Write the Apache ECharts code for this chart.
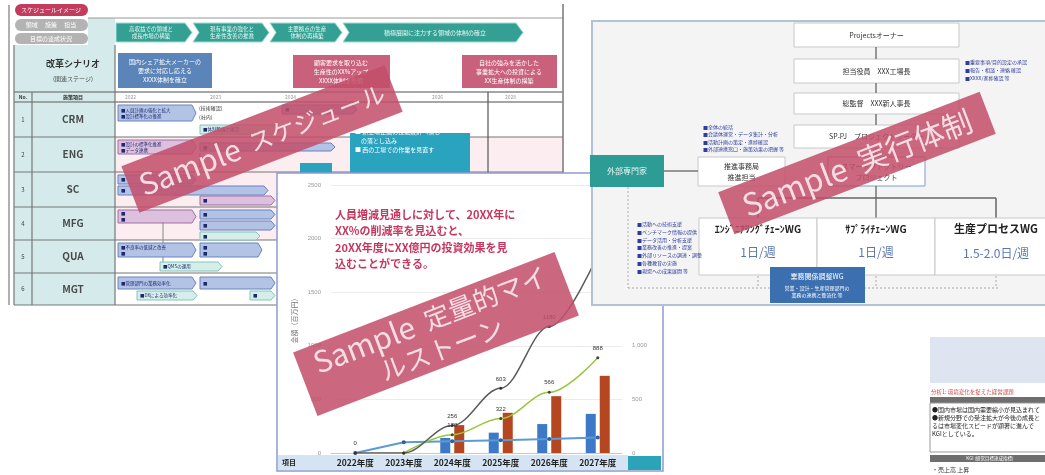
<!DOCTYPE html>
<html><head><meta charset="utf-8">
<script src="https://cdn.jsdelivr.net/npm/echarts@6/dist/echarts.min.js"></script>
<style>html,body{margin:0;padding:0;background:#fff}#c{width:1045px;height:475px}</style>
</head><body><div id="c"></div>
<script>
// ---- chart data ----
const categories = ['2022年度','2023年度','2024年度','2025年度','2026年度','2027年度'];
const barBlue   = [null, null, 140, 190, 270, 365];
const barOrange = [null, null, 260, 375, 530, 720];
const lineGray  = [0, 0, 256, 603, 1180, 1850];
const lineGreen = [null, 0, 170, 322, 566, 888];
const lineBlue  = [0, 100, 110, 118, 130, 145];
const yMin = 0, yMax = 2500, yStep = 500;

const F = '"Noto Sans CJK JP", "Noto Sans", sans-serif';
const G = [];
function R(x,y,w,h,fill,stroke,z,lw,r){G.push({type:'rect',silent:true,z:z,shape:{x:x,y:y,width:w,height:h,r:r||0},style:{fill:fill||'rgba(0,0,0,0)',stroke:stroke||null,lineWidth:lw||1}});}
function T(x,y,s,size,color,z,o){o=o||{};G.push({type:'text',silent:true,z:z,x:x,y:y,style:{text:s,fontSize:size,fontWeight:o.bold?'bold':'normal',fontFamily:F,fill:color,textAlign:o.align||'left',textVerticalAlign:'middle',lineHeight:o.lh||Math.round(size*1.3)}});}
function L(x1,y1,x2,y2,c,lw,z,dash){G.push({type:'line',silent:true,z:z,shape:{x1:x1,y1:y1,x2:x2,y2:y2},style:{stroke:c,lineWidth:lw||1,lineDash:dash||null}});}
function P(pts,fill,stroke,z){G.push({type:'polygon',silent:true,z:z,shape:{points:pts},style:{fill:fill,stroke:stroke||null,lineWidth:1}});}
function chev(x,y,w,h,fill,first){const p=[[x,y],[x+w-7,y],[x+w,y+h/2],[x+w-7,y+h],[x,y+h]];if(!first)p.push([x+6,y+h/2]);P(p,fill,'#9fdcd2',1);}
function task(x,y,w,h,kind,txt){const c={b:['#b3c3e6','#6b82bf'],p:['#dcc0de','#a070a8'],t:['#d5eeea','#86c4bb']}[kind];P([[x,y],[x+w-4,y],[x+w,y+h/2],[x+w-4,y+h],[x,y+h]],c[0],c[1],1);if(txt)T(x+3,y+h/2,txt,4.5,'#1e2a6e',2,{lh:6});}

// ================= schedule slide (back left) =================
L(9,5,9,305,'#b0b0b0',2,1);
R(15,4,73,12,'#c23c5d',null,1,1,6); T(51,10,'スケジュールイメージ',6,'#fff',2,{align:'center'});
R(15,19,73,12,'#b3b3b3',null,1,1,6); T(51,25,'領域　 施策　 担当',6,'#fff',2,{align:'center'});
R(15,33,73,11,'#b3b3b3',null,1,1,6); T(51,38.5,'目標の達成状況',6,'#fff',2,{align:'center'});
R(14,45,101,260,'#d5ebeb',null,0); R(88,18,27,27,'#d5ebeb',null,0);
R(115,137,448,103,'#fbedf0',null,0);
L(88,18,563,18,'#999',1.2,1);
L(563,4,563,305,'#777',1.5,1);
chev(116,23,76,19,'#34a094',true); T(151,32.5,'高収益での領域と\n成長市場の構築',5.5,'#e6f7f4',2,{align:'center',lh:7});
chev(193,23,76,19,'#34a094',false); T(232,32.5,'現有事業の強化と\n生産性改善の推進',5.5,'#e6f7f4',2,{align:'center',lh:7});
chev(270,23,72,19,'#34a094',false); T(307,32.5,'主要拠点の生産\n体制の再構築',5.5,'#e6f7f4',2,{align:'center',lh:7});
chev(343,23,180,19,'#34a094',false); T(435,32.5,'積極展開に注力する領域の体制の確立',6,'#e6f7f4',2,{align:'center'});
T(73,64,'改革シナリオ',9,'#333',2,{bold:true,align:'center'}); T(73,79,'(関連ステージ)',6,'#444',2,{align:'center'});
R(118,53,94,35,'#5b84b8',null,1); T(165,70.5,'国内シェア拡大メーカーの\n要求に対応し応える\nXXXX体制を確立',6,'#fff',2,{align:'center',lh:9});
R(293,55,97,33,'#c9617c',null,1); T(341,71.5,'顧客要求を取り込む\n生産性のXX%アップ\nXXXX体制を整備',6,'#fff',2,{align:'center',lh:9});
R(462,55,95,33,'#c9617c',null,1); T(509,71.5,'自社の強みを活かした\n事業拡大への投資による\nXX生産体制の構築',6,'#fff',2,{align:'center',lh:9});
[92,102,137,172,207,240,273,305].forEach(function(y,i){L(14,y,563,y,i<2?'#888':'#777',i<2?1.5:1.2,1);});
L(14,45,14,305,'#777',1.2,1); L(32,92,32,305,'#777',1.2,1); L(115,45,115,305,'#777',1.2,1); L(488,92,488,305,'#555',1.2,1);
T(23,97,'No.',5,'#333',2,{bold:true,align:'center'}); T(73,97,'施策項目',5,'#333',2,{bold:true,align:'center'});
[['2022',125],['2023',210],['2024',285],['2026',432],['2028',505]].forEach(function(a){T(a[1],97,a[0],5,'#999',2);});
['CRM','ENG','SC','MFG','QUA','MGT'].forEach(function(n,i){const ys=[102,137,172,207,240,273,305];const cy=(ys[i]+ys[i+1])/2;T(23,cy,String(i+1),6,'#444',2,{align:'center'});T(73,cy,n,10,'#4a4a4a',2,{bold:true,align:'center'});});
task(118,105,78,16,'b','■人員計画の強化と拡大\n■設計標準化の推進');
T(199,108,'(技術確認)',5,'#333',2); T(199,117,'(社内)',5,'#333',2);
task(200,125,80,9,'t','■体制整備と確認');
task(282,105,75,9,'b','■');
task(118,140,78,14,'p','■設計の標準化推進\n■データ連携');
task(200,143,135,8,'b','■');
L(200,153,200,168,'#777',1,1);
R(350,133,120,42,'#2aa3bf',null,1); T(355,141,'■ 新上場企画の技能設計へ落し\n　の落とし込み\n■ 西の工場での作業を見直す',6,'#fff',2,{lh:9});
R(300,163,32,14,'#2aa3bf',null,1);
task(118,175,78,9,'b','■'); task(118,186,150,9,'b','■'); task(200,196,75,9,'p','■');
task(118,210,78,13,'p','■\n■'); task(200,210,75,9,'b','■'); task(200,221,75,9,'b','■'); task(200,232,60,8,'t','■');
L(163,222,163,265,'#888',1,1);
task(118,243,78,14,'b','■不良率の低減と改善\n■'); task(200,243,62,14,'b','■\n■'); task(160,262,62,9,'t','■QMSの運用');
task(118,277,78,12,'b','■管理部門の業務効率化'); task(200,277,75,12,'b','■'); task(137,291,60,9,'t','■DXによる効率化'); task(250,291,25,9,'t','■');

// ================= chart slide (middle) =================
R(277,173,386,298,'#ffffff','#8e9bd0',3,1.5);
R(278,455,350,15,'#d4e4f2',null,4);
T(282,462.5,'項目',7,'#222',6,{bold:true});
R(628,456,33,14,'#2ba4b8',null,4);
T(335,215,'人員増減見通しに対して、20XX年に',11,'#c8365e',6,{bold:true});
T(335,231,'XX%の削減率を見込むと、',11,'#c8365e',6,{bold:true});
T(335,248,'20XX年度にXX億円の投資効果を見',11,'#c8365e',6,{bold:true});
T(335,264,'込むことができる。',11,'#c8365e',6,{bold:true});

// ================= org chart slide (right) =================
R(592,21,460,284,'#f4f4f4','#b4c0d4',10,2);
function box(x,y,w,h,t,stroke,fs){R(x,y,w,h,'#fff',stroke||'#c8c8c8',11);T(x+w/2,y+h/2,t,fs||7,'#333',12,{align:'center',lh:11});}
box(794,23,165,24,'Projectsオーナー');
box(794,59,165,24,'担当役員　XXX工場長');
box(794,93,165,21,'総監督　XXX新人事長');
box(794,125,165,23,'SP-PJ　プロジェクトリーダー');
box(828,157,97,29,'スマートファクトリー\nプロジェクト','#7a9ccc');
box(698,157,87,29,'推進事務局\n推進担当');
R(590,155,74,32,'#2d9c94',null,11); T(627,171,'外部専門家',8,'#e6f6f3',12,{align:'center'});
[[47,59],[83,93],[114,125],[148,157],[186,218]].forEach(function(a){L(876,a[0],876,a[1],'#777',1.5,11);});
L(758,198,996,198,'#666',1.5,11); L(996,198,996,218,'#666',1.5,11); L(758,198,758,218,'#666',1.5,11);
L(664,171,698,171,'#777',1.5,11);
L(628,187,628,288,'#aaa',1,11,[2,2]); L(628,288,1000,288,'#aaa',1,11,[2,2]);
[758,876,996].forEach(function(x){L(x,276,x,288,'#aaa',1,11,[2,2]);});
R(699,218,118,57,'#fff','#c8c8c8',11); R(817,218,118,57,'#fff','#c8c8c8',11); R(935,218,125,57,'#fff','#c8c8c8',11);
T(758,229,'ｴﾝｼﾞﾆｱﾘﾝｸﾞﾁｪｰﾝWG',10,'#222',12,{bold:true,align:'center'});
T(876,229,'ｻﾌﾟﾗｲﾁｪｰﾝWG',10,'#222',12,{bold:true,align:'center'});
T(996,229,'生産プロセスWG',11,'#222',12,{bold:true,align:'center'});
T(758,252,'1日/週',12,'#5a78b0',12,{align:'center'});
T(876,252,'1日/週',12,'#5a78b0',12,{align:'center'});
T(996,253,'1.5-2.0日/週',12,'#5a78b0',12,{align:'center'});
R(770,267,95,36,'#3b6fb0',null,12); T(817,276,'業務関係調整WG',7,'#fff',12,{align:'center'});
T(817,292,'営業・設計・生産管理部門の\n業務の連携と整流化 等',5,'#fff',12,{align:'center',lh:7});
['■重要事項/目的設定の承認','■報告・相談・連絡 確認','■XXXX/進捗確認 等'].forEach(function(s,i){T(965,62+i*8,s,5,'#2f3d9c',12);});
['■全体の統括','■会議体運営・データ集計・分析','■活動計画の策定・進捗確認','■外部連携窓口・施策効果の把握 等'].forEach(function(s,i){T(703,127+i*7.5,s,5,'#2f3d9c',12);});
['■活動への技術支援','■ベンチマーク情報の提供','■データ活用・分析支援','■業務改善の推進・提案','■外部リソースの調達・調整','■各種教育の実施','■現場への成果展開 等'].forEach(function(s,i){T(637,224+i*7.8,s,5,'#2f3d9c',12);});

// ================= bottom-right slide =================
R(929,335,120,145,'#fff',null,10);
R(930,337,120,46,'#dfe5f0',null,11);
T(931,392,'分析1: 環境変化を捉えた経営課題',5.5,'#c0504d',12);
R(930,397,120,6,'#6e6e6e',null,11);
R(930,403,120,49,'#fff','#999',11);
['●国内市場は国内需要縮小が見込まれて','●新規分野での受注拡大が今後の成長と','るは市場変化スピードが顕著に進んで','KGIとしている。'].forEach(function(s,i){T(932,410+i*8,s,6,'#222',12);});
R(930,455,120,7,'#6e6e6e',null,11); T(990,458.5,'KGI (経営目標達成指標)',4.5,'#fff',12,{align:'center'});
T(932,470,'・売上高 上昇',6,'#333',12);

// ================= Sample tags =================
function tag(cx,cy,w,h,deg,text,rich){G.push({type:'group',x:cx,y:cy,rotation:deg*Math.PI/180,z:20,silent:true,children:[
 {type:'rect',z:20,shape:{x:-w/2,y:-h/2,width:w,height:h},style:{fill:'rgba(194,78,106,0.86)'}},
 {type:'text',z:21,x:0,y:0,style:{text:text,rich:rich,fill:'#f6dde4',textAlign:'center',textVerticalAlign:'middle',fontFamily:F}}]});}
tag(262,139,282,50,21,'{a|Sample}{b|  スケジュール}',{a:{fontSize:30,fontFamily:F,fill:'#f6dde4'},b:{fontSize:24,fontFamily:F,fill:'#f6dde4'}});
tag(436,334,280,68,21,'{a|Sample}{b|  定量的マイ}\n{b|ルストーン}',{a:{fontSize:30,fontFamily:F,fill:'#f6dde4',lineHeight:32},b:{fontSize:26,fontFamily:F,fill:'#f6dde4',lineHeight:32}});
tag(857,163,280,45,21,'{a|Sample}{b|  実行体制}',{a:{fontSize:31,fontFamily:F,fill:'#f6dde4'},b:{fontSize:30,fontFamily:F,fill:'#f6dde4'}});

const chart = echarts.init(document.getElementById('c'));
chart.setOption({
  animation:false,
  backgroundColor:'#ffffff',
  grid:{left:331,right:423,top:185,bottom:22},
  xAxis:{type:'category',data:categories,z:5,axisLine:{lineStyle:{color:'#c8c8c8'}},axisTick:{show:false},
    axisLabel:{interval:0,fontSize:8.5,fontWeight:'bold',color:'#222',margin:6,fontFamily:F}},
  yAxis:[
    {type:'value',min:yMin,max:yMax,interval:yStep,z:5,name:'金額（百万円）',nameLocation:'middle',nameGap:33,
     nameTextStyle:{fontSize:7,color:'#777',fontFamily:F},axisLabel:{fontSize:6,color:'#999',margin:10,formatter:function(v){return String(v);}},
     splitLine:{lineStyle:{color:'#ececec'}},axisLine:{show:false},axisTick:{show:false}},
    {type:'value',position:'right',min:yMin,max:yMax,interval:yStep,z:5,
     axisLabel:{fontSize:6,color:'#999',margin:10,formatter:function(v){return v.toLocaleString('en-US');}},
     splitLine:{show:false},axisLine:{show:false},axisTick:{show:false}}
  ],
  series:[
    {type:'bar',data:barBlue,barWidth:10,barGap:'40%',z:6,itemStyle:{color:'#3d79c7'}},
    {type:'bar',data:barOrange,barWidth:10,z:6,itemStyle:{color:'#b4471f'}},
    {type:'line',data:lineBlue,z:7,symbol:'circle',symbolSize:4,lineStyle:{color:'#5b9bd5',width:2},itemStyle:{color:'#2f5f9f'},
     label:{show:true,position:'top',fontSize:6,color:'#333',formatter:function(p){return p.dataIndex===0?'0':'';}}},
    {type:'line',data:lineGreen,z:7,smooth:0.35,smoothMonotone:'x',symbol:'circle',symbolSize:3,lineStyle:{color:'#95c83d',width:1.5},itemStyle:{color:'#3f4a2a'},
     label:{show:true,position:'top',fontSize:6,color:'#333',formatter:function(p){return p.value>0?String(p.value):'';}}},
    {type:'line',data:lineGray,z:7,smooth:0.35,smoothMonotone:'x',symbol:'circle',symbolSize:3,lineStyle:{color:'#5a5a5a',width:1.5},itemStyle:{color:'#333'},
     label:{show:true,position:'top',fontSize:6,color:'#333',formatter:function(p){return p.value>0?String(p.value):'';}}}
  ],
  graphic:{elements:G}
});
</script></body></html>
